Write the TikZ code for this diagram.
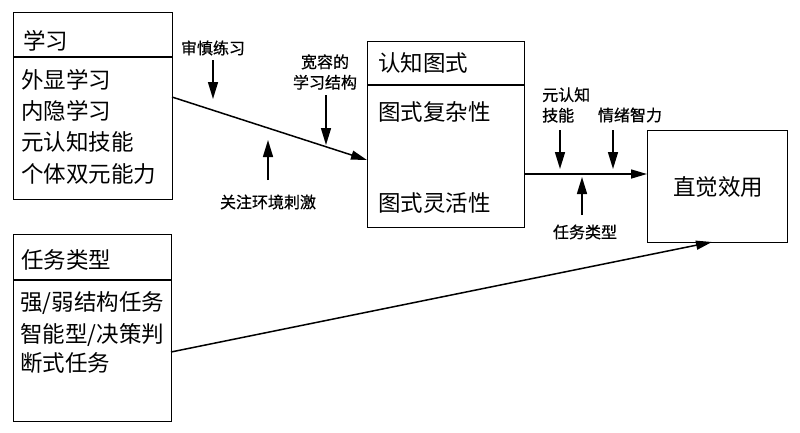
\documentclass[tikz,border=0pt]{standalone}
\usepackage{fontspec}
\setmainfont{Noto Sans CJK SC}
\newfontfamily\labfont{Noto Sans CJK SC}[FakeBold=0.7]
\usetikzlibrary{arrows.meta,calc}
\begin{document}
\begin{tikzpicture}[x=1pt,y=-1pt,
  box/.style={draw,line width=1.4pt,inner sep=0pt,anchor=north west},
  big/.style={font=\fontsize{22.5}{26}\selectfont,anchor=west,inner sep=0pt},
  small/.style={font=\labfont\fontsize{16}{20.5}\selectfont,inner sep=0pt,align=center},
  conn/.style={line width=1.5pt,-{Triangle[length=16pt,width=9pt]}},
  pin/.style={line width=1.5pt,-{Triangle[length=17pt,width=10pt]}},
  divider/.style={line width=1.4pt}]
\useasboundingbox (0,0) rectangle (800,432);
% boxes
\node[box,minimum width=159pt,minimum height=187pt] (b1) at (13,12) {};
\draw[divider] (b1.west |- 0,57) -- (b1.east |- 0,57);
\node[box,minimum width=157pt,minimum height=186pt] (b2) at (367,41) {};
\draw[divider] (b2.west |- 0,85) -- (b2.east |- 0,85);
\node[box,minimum width=140pt,minimum height=112pt] (b3) at (647,130) {};
\node[box,minimum width=158pt,minimum height=187pt] (b4) at (13,234) {};
\draw[divider] (b4.west |- 0,280) -- (b4.east |- 0,280);
% box texts
\node[big] (h1) at (23,41) {学习};
\node[big] (i11) at (21,80) {外显学习};
\node[big] (i12) at (21,111) {内隐学习};
\node[big] (i13) at (21,142) {元认知技能};
\node[big] (i14) at (21,174) {个体双元能力};
\node[big] (h2) at (378,63) {认知图式};
\node[big] (i21) at (378,112) {图式复杂性};
\node[big] (i22) at (378,203) {图式灵活性};
\node[big,anchor=center] (t3) at (718,187) {直觉效用};
\node[big] (h4) at (21,260) {任务类型};
\node[big] (i41) at (20,303) {强/弱结构任务};
\node[big] (i42) at (20,335) {智能型/决策判};
\node[big] (i43) at (20,363) {断式任务};
% small labels
\node[small] (l1) at (213,48) {审慎练习};
\node[small] (l2) at (325,72) {宽容的\\学习结构};
\node[small] (l3) at (268,202) {关注环境刺激};
\node[small,align=left,anchor=west] (l4) at (542,105) {元认知\\技能};
\node[small] (l5) at (630,115) {情绪智力};
\node[small] (l6) at (585,232) {任务类型};
% connector coordinates
\coordinate (s1) at (172,97);
\coordinate (e1) at (367,160);
\coordinate (s2) at (524,174);
\coordinate (e2) at (647,174);
\coordinate (s3) at (171,352);
\coordinate (e3) at (712,242);
\draw[conn] (s1) -- (e1);
\draw[conn] (s2) -- (e2);
\draw[conn] (s3) -- (e3);
% pin arrows
\coordinate (p1a) at (213,60);  \coordinate (p1b) at (213,99);
\coordinate (p2a) at (326,95);  \coordinate (p2b) at (326,145);
\coordinate (p3a) at (268,180); \coordinate (p3b) at (268,140);
\coordinate (p4a) at (560,130); \coordinate (p4b) at (560,169);
\coordinate (p5a) at (613,130); \coordinate (p5b) at (613,169);
\coordinate (p6a) at (582,215); \coordinate (p6b) at (582,177);
\draw[pin] (p1a) -- (p1b);
\draw[pin] (p2a) -- (p2b);
\draw[pin] (p3a) -- (p3b);
\draw[pin] (p4a) -- (p4b);
\draw[pin] (p5a) -- (p5b);
\draw[pin] (p6a) -- (p6b);
\end{tikzpicture}
\end{document}
